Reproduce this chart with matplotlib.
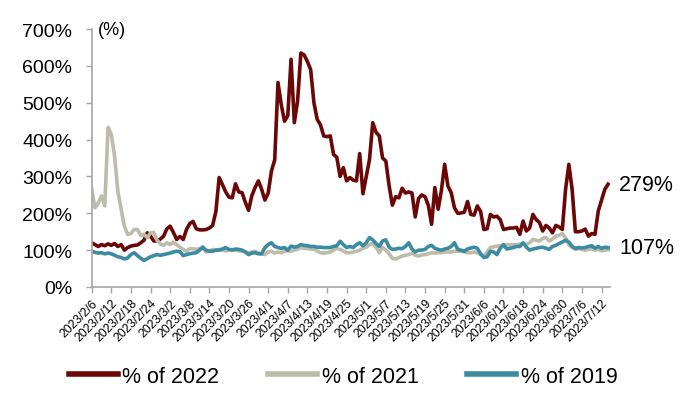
import matplotlib
matplotlib.use("Agg")
import matplotlib.pyplot as plt
import numpy as np
import pandas as pd

plt.rcParams['font.family'] = ['Liberation Sans', 'DejaVu Sans']

start_date = "2023-02-06"
tick_step_days = 6

pct_2022 = [
    120, 115, 110, 115, 112, 117, 113, 118, 110, 115,
    100, 107, 111, 113, 114, 120, 127, 147, 138, 125,
    125, 130, 138, 158, 165, 148, 129, 137, 129, 156,
    172, 178, 158, 155, 155, 156, 160, 167, 205, 297,
    278, 258, 244, 242, 280, 258, 256, 230, 208, 248,
    270, 288, 265, 236, 255, 315, 345, 555, 495, 450,
    465, 618, 446, 505, 635, 630, 612, 590, 500, 455,
    440, 410, 408, 410, 360, 352, 300, 324, 288, 297,
    290, 288, 362, 253, 300, 346, 446, 420, 410, 350,
    342, 275, 222, 245, 242, 268, 255, 258, 255, 190,
    240, 250, 245, 222, 170, 270, 211, 262, 333, 274,
    256, 215, 200, 201, 203, 232, 197, 195, 220, 205,
    156, 158, 197, 190, 192, 183, 156, 158, 160, 160,
    162, 143, 179, 152, 160, 197, 183, 175, 152, 167,
    160, 147, 167, 163, 156, 265, 333, 265, 150, 150,
    152, 157, 138, 145, 143, 206, 235, 265, 279,
]

pct_2021 = [
    265, 215, 228, 247, 220, 433, 414, 355, 260, 211,
    165, 143, 145, 156, 156, 140, 143, 134, 147, 148,
    127, 117, 113, 120, 115, 122, 115, 108, 102, 97,
    104, 104, 102, 104, 110, 95, 98, 102, 100, 102,
    100, 98, 100, 102, 100, 98, 97, 95, 93, 95,
    97, 92, 90, 88, 95, 97, 92, 95, 93, 97,
    98, 97, 100, 103, 107, 105, 104, 103, 102, 98,
    93, 92, 93, 95, 100, 105, 102, 98, 93, 93,
    95, 97, 100, 105, 108, 115, 118, 108, 93, 108,
    100, 90, 78, 76, 80, 84, 86, 88, 92, 86,
    84, 87, 88, 90, 93, 92, 93, 93, 95, 95,
    95, 97, 97, 97, 95, 93, 93, 95, 93, 88,
    84, 95, 107, 109, 111, 112, 113, 115, 114, 115,
    115, 116, 118, 115, 120, 129, 127, 125, 132, 134,
    125, 130, 138, 140, 145, 133, 115, 107, 102, 104,
    102, 100, 102, 104, 100, 102, 98, 100, 101,
]

pct_2019 = [
    97, 94, 92, 93, 90, 92, 90, 86, 82, 80,
    76, 79, 88, 93, 85, 78, 72, 77, 82, 85,
    88, 86, 88, 90, 92, 95, 97, 96, 85, 88,
    90, 92, 93, 100, 107, 100, 97, 97, 100, 100,
    103, 107, 102, 100, 103, 102, 100, 95, 88, 92,
    93, 90, 90, 107, 115, 120, 110, 107, 105, 107,
    100, 111, 108, 110, 115, 113, 112, 110, 110, 108,
    108, 107, 107, 107, 110, 112, 124, 115, 107, 110,
    107, 115, 120, 112, 120, 134, 128, 118, 110, 125,
    128, 108, 102, 103, 105, 104, 110, 120, 103, 95,
    100, 100, 102, 110, 113, 105, 102, 100, 103, 105,
    110, 120, 102, 100, 97, 103, 106, 108, 105, 90,
    80, 82, 97, 95, 88, 105, 115, 103, 105, 107,
    110, 110, 120, 108, 100, 103, 105, 107, 108, 105,
    102, 110, 113, 118, 122, 127, 122, 110, 105, 107,
    106, 107, 110, 112, 105, 110, 105, 108, 107,
]

series_labels = ["% of 2022", "% of 2021", "% of 2019"]
colors = ["#6b0707", "#bdbbaa", "#3b8ca3"]

dates = pd.date_range(start_date, periods=len(pct_2022), freq="D")

fig = plt.figure(figsize=(7.0, 4.1), dpi=100)
ax = fig.add_axes([0.131, 0.2976, 0.740, 0.629])

for vals, lab, col in zip([pct_2022, pct_2021, pct_2019], series_labels, colors):
    ax.plot(dates, vals, color=col, lw=2.6, label=lab, solid_joinstyle='round')

ax.set_ylim(0, 700)
ax.set_yticks(np.arange(0, 701, 100))
ax.set_yticklabels([f"{v}%" for v in range(0, 701, 100)], fontsize=14)
ax.set_xlim(dates[0], dates[-1] + pd.Timedelta(hours=12))

tick_dates = dates[::tick_step_days]
ax.set_xticks(tick_dates)
ax.set_xticklabels([f"{d.year}/{d.month}/{d.day}" for d in tick_dates],
                   rotation=45, ha='right', rotation_mode='anchor', fontsize=8.8)

for s in ['top', 'right']:
    ax.spines[s].set_visible(False)
for s in ['left', 'bottom']:
    ax.spines[s].set_color('#a6a6a6')
    ax.spines[s].set_linewidth(1.2)
ax.tick_params(axis='y', length=4, color='#a6a6a6', width=1.0, pad=10)
ax.tick_params(axis='x', length=4, color='#a6a6a6', width=1.0, pad=3)

ax.text(0.012, 700, "(%)", transform=ax.get_yaxis_transform(), fontsize=13,
        va='center', ha='left')

ax.annotate(f"{pct_2022[-1]}%", xy=(dates[-1], pct_2022[-1]), xytext=(8, 0),
            textcoords='offset points', fontsize=15.5, va='center', ha='left',
            annotation_clip=False)
ax.annotate(f"{pct_2019[-1]}%", xy=(dates[-1], pct_2019[-1]), xytext=(8, 0),
            textcoords='offset points', fontsize=15.5, va='center', ha='left',
            annotation_clip=False)

leg = fig.legend(loc='center', bbox_to_anchor=(0.49, 0.08), ncol=3, frameon=False,
                 fontsize=15.5, handlelength=2.3, handletextpad=0.2,
                 columnspacing=2.25)
for line in leg.get_lines():
    line.set_linewidth(4)

fig.savefig("out.png", dpi=100)
